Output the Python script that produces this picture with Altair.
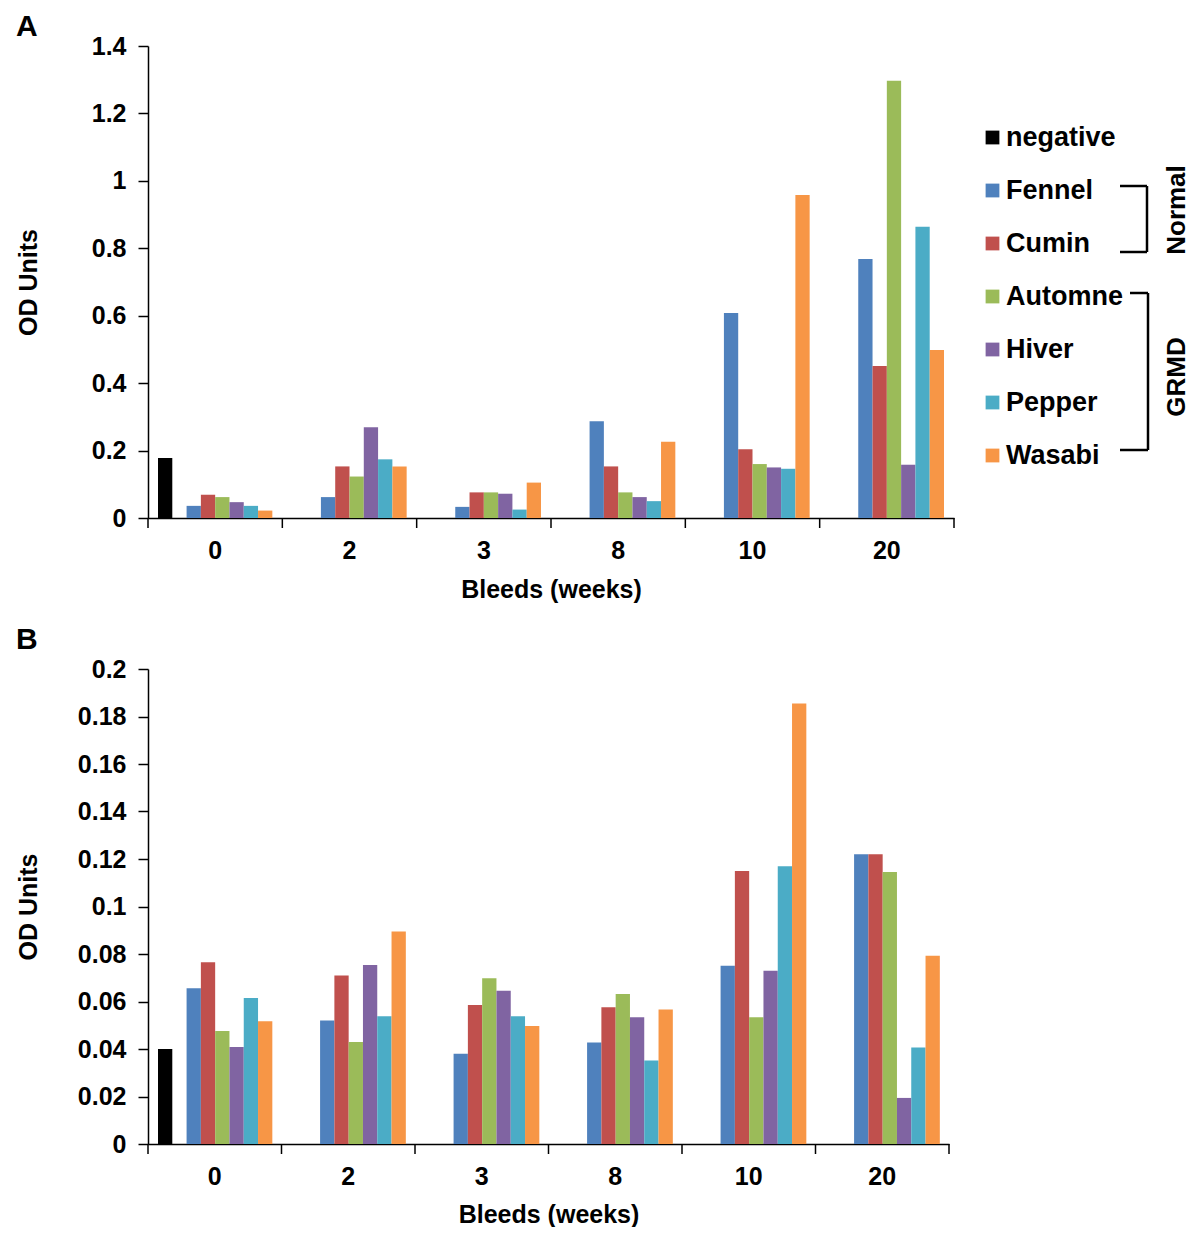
import altair as alt
import pandas as pd

FONT = "Liberation Sans"

bleeds = ["0", "2", "3", "8", "10", "20"]
series = ["negative", "Fennel", "Cumin", "Automne", "Hiver", "Pepper", "Wasabi"]
colors = ["#000000", "#4F81BD", "#C0504D", "#9BBB59", "#8064A2", "#4BACC6", "#F79646"]
offset_slots = ["negative", "gap", "Fennel", "Cumin", "Automne", "Hiver", "Pepper", "Wasabi"]

# Panel A values (negative control only measured at week 0)
a_negative = 0.178
a_fennel = [0.036, 0.062, 0.033, 0.287, 0.608, 0.768]
a_cumin = [0.069, 0.153, 0.076, 0.153, 0.204, 0.451]
a_automne = [0.062, 0.123, 0.076, 0.076, 0.160, 1.297]
a_hiver = [0.047, 0.269, 0.072, 0.062, 0.150, 0.158]
a_pepper = [0.036, 0.174, 0.025, 0.050, 0.146, 0.864]
a_wasabi = [0.022, 0.153, 0.105, 0.226, 0.958, 0.498]

# Panel B values
b_negative = 0.040
b_fennel = [0.0656, 0.052, 0.038, 0.0427, 0.0751, 0.122]
b_cumin = [0.0765, 0.0709, 0.0585, 0.0576, 0.115, 0.122]
b_automne = [0.0476, 0.043, 0.0698, 0.0632, 0.0534, 0.1145]
b_hiver = [0.0408, 0.0754, 0.0645, 0.0534, 0.073, 0.0194]
b_pepper = [0.0615, 0.0538, 0.0538, 0.0352, 0.117, 0.0406]
b_wasabi = [0.0517, 0.0895, 0.0497, 0.0566, 0.1855, 0.0793]

a_ticks = [0, 0.2, 0.4, 0.6, 0.8, 1, 1.2, 1.4]
b_ticks = [0, 0.02, 0.04, 0.06, 0.08, 0.1, 0.12, 0.14, 0.16, 0.18, 0.2]


def long_table(neg, cols):
    rows = [{"Bleeds": bleeds[0], "Series": "negative", "OD": neg}]
    for name, vals in zip(series[1:], cols):
        for b, v in zip(bleeds, vals):
            rows.append({"Bleeds": b, "Series": name, "OD": v})
    return pd.DataFrame(rows)


df_a = long_table(a_negative, [a_fennel, a_cumin, a_automne, a_hiver, a_pepper, a_wasabi])
df_b = long_table(b_negative, [b_fennel, b_cumin, b_automne, b_hiver, b_pepper, b_wasabi])
df_ticks = pd.DataFrame({"Bleeds": bleeds})


def x_enc(title_pad, band_pos=None):
    kw = {}
    if band_pos is not None:
        kw["bandPosition"] = band_pos
    return alt.X(
        "Bleeds:N",
        sort=bleeds,
        scale=alt.Scale(domain=bleeds, paddingInner=0, paddingOuter=0),
        axis=alt.Axis(
            title="Bleeds (weeks)", labelAngle=0, ticks=False,
            labelFont=FONT, labelFontSize=25, labelFontWeight="bold", labelColor="black",
            labelPadding=20,
            titleFont=FONT, titleFontSize=25, titleFontWeight="bold", titleColor="black",
            titlePadding=title_pad,
            domainColor="black", domainWidth=1.5, grid=False,
        ),
        **kw,
    )


def panel(df, neg_ticks, ymax, width, height, letter, legend, title_offset, title_pad):
    color_legend = None
    if legend:
        color_legend = alt.Legend(
            orient="none", legendX=831, legendY=78, title=None,
            symbolType="square", symbolSize=190, symbolStrokeWidth=0,
            labelFont=FONT, labelFontSize=27, labelFontWeight="bold", labelColor="black",
            labelOffset=0, rowPadding=25, padding=0, labelLimit=400,
        )
    bars = alt.Chart(df).mark_bar().encode(
        x=x_enc(title_pad),
        xOffset=alt.XOffset(
            "Series:N",
            scale=alt.Scale(domain=offset_slots, paddingInner=0, paddingOuter=0.7),
        ),
        y=alt.Y(
            "OD:Q",
            scale=alt.Scale(domain=[0, ymax], nice=False),
            axis=alt.Axis(
                values=neg_ticks, format="~g", title="OD Units",
                labelFont=FONT, labelFontSize=25, labelFontWeight="bold", labelColor="black",
                labelPadding=12, tickSize=10, tickColor="black", tickWidth=1.5,
                domainColor="black", domainWidth=1.5, grid=False,
                titleFont=FONT, titleFontSize=25, titleFontWeight="bold", titleColor="black",
                titleAngle=270, titleBaseline="middle", titleX=-120,
            ),
        ),
        color=alt.Color("Series:N", scale=alt.Scale(domain=series, range=colors), legend=color_legend),
    )
    ticks = alt.Chart(df_ticks).mark_rule(color="black", strokeWidth=1.5).encode(
        x=x_enc(title_pad, 0), y=alt.value(height), y2=alt.value(height + 10)
    )
    end_tick = alt.Chart(df_ticks).transform_filter(
        alt.datum.Bleeds == bleeds[-1]
    ).mark_rule(color="black", strokeWidth=1.5).encode(
        x=x_enc(title_pad, 1), y=alt.value(height), y2=alt.value(height + 10)
    )
    layers = [bars, ticks, end_tick]
    if legend:
        def seg(x1, y1, x2, y2):
            return alt.Chart(alt.Data(values=[{}])).mark_rule(color="black", strokeWidth=2.5).encode(
                x=alt.value(x1), x2=alt.value(x2), y=alt.value(y1), y2=alt.value(y2)
            )

        def label(txt, x, y):
            return alt.Chart(alt.Data(values=[{}])).mark_text(
                text=txt, angle=270, font=FONT, fontSize=26, fontWeight="bold",
                color="black", align="center", baseline="middle",
            ).encode(x=alt.value(x), y=alt.value(y))

        layers += [
            seg(972, 140, 999, 140), seg(999, 140, 999, 206), seg(972, 206, 999, 206),
            seg(982, 247, 1000, 247), seg(1000, 247, 1000, 404), seg(972, 404, 1000, 404),
            label("Normal", 1029, 164), label("GRMD", 1029, 331),
        ]
    return alt.layer(*layers).properties(
        width=width, height=height,
        title=alt.TitleParams(letter, anchor="start", font=FONT, fontSize=30, fontWeight="bold",
                              color="black", offset=title_offset),
    )


chart_a = panel(df_a, a_ticks, 1.4, 806, 472, "A", True, -7.5, 14)
chart_b = panel(df_b, b_ticks, 0.2, 801, 475, "B", False, 2, 13)

chart = alt.vconcat(chart_a, chart_b, spacing=23).resolve_scale(
    color="independent"
).properties(
    padding={"left": 8, "top": 3, "right": 0, "bottom": 0}, background="white"
).configure_view(stroke=None)

chart.save("out.html", embed_options={"renderer": "svg", "actions": False})
